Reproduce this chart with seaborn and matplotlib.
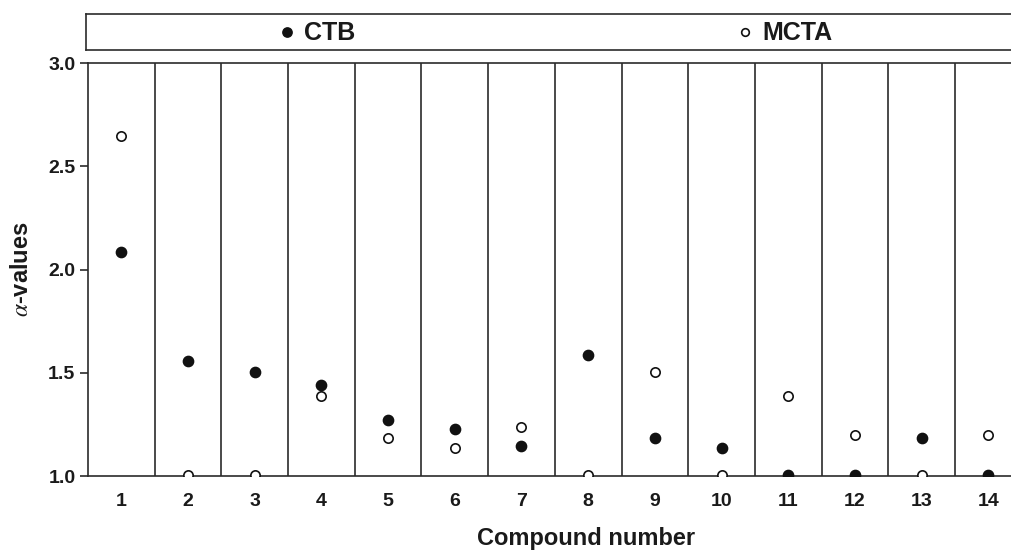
import matplotlib
matplotlib.use("Agg")
import matplotlib.pyplot as plt
import seaborn as sns
import pandas as pd

compounds = list(range(1, 15))
ctb = [2.085, 1.557, 1.504, 1.44, 1.274, 1.228, 1.145, 1.586, 1.184, 1.136, 1.005, 1.005, 1.184, 1.005]
mcta = [2.646, 1.005, 1.005, 1.39, 1.184, 1.136, 1.237, 1.005, 1.504, 1.005, 1.387, 1.199, 1.005, 1.199]
yticks = [1.0, 1.5, 2.0, 2.5, 3.0]

sns.set_style("white")
plt.rcParams['font.family'] = ['Liberation Sans', 'DejaVu Sans']
plt.rcParams['mathtext.fontset'] = 'stix'

df = pd.DataFrame({
    "compound": compounds * 2,
    "value": ctb + mcta,
    "series": ["CTB"] * len(ctb) + ["MCTA"] * len(mcta),
})

fig = plt.figure(figsize=(10.11, 5.53), dpi=100)
ax = fig.add_axes([0.087, 0.139, 0.913, 0.747])
lc = "#2b2b2b"

sns.scatterplot(data=df[df.series == "CTB"], x="compound", y="value", ax=ax,
                color="#111111", edgecolor="#111111", s=55, linewidth=1, zorder=3, legend=False)
sns.scatterplot(data=df[df.series == "MCTA"], x="compound", y="value", ax=ax,
                color="white", edgecolor="#111111", s=45, linewidth=1.2, zorder=3, legend=False)

for b in range(1, 14):
    ax.axvline(b + 0.5, color=lc, lw=1.2, zorder=1)

ax.set_xlim(0.5, 14.34)
ax.set_ylim(1.0, 3.0)
ax.set_xticks(compounds)
ax.set_xticklabels([str(c) for c in compounds], fontsize=14, fontweight="bold", color="#1a1a1a")
ax.set_yticks(yticks)
ax.set_yticklabels([f"{t:.1f}" for t in yticks], fontsize=14, fontweight="bold", color="#1a1a1a")
ax.tick_params(axis="x", length=0, pad=12)
ax.tick_params(axis="y", length=6, width=1.2, color=lc, direction="out", left=True, pad=3)
for s in ["left", "bottom", "top"]:
    ax.spines[s].set_color(lc)
    ax.spines[s].set_linewidth(1.2)
ax.spines["right"].set_visible(False)
ax.set_xlabel("Compound number", fontsize=17, fontweight="bold", color="#1a1a1a")
ax.xaxis.set_label_coords(0.54, -0.122)
ax.set_ylabel(r"$\alpha$-values", fontsize=17, fontweight="bold", labelpad=11, color="#1a1a1a")

# legend box
lax = fig.add_axes([0.085, 0.9096, 0.93, 0.065])
lax.set_xlim(0, 1)
lax.set_ylim(0, 1)
lax.set_xticks([])
lax.set_yticks([])
for s in lax.spines.values():
    s.set_color(lc)
    s.set_linewidth(1.2)
lax.scatter([0.214], [0.5], s=45, color="#111111", zorder=3)
lax.text(0.232, 0.47, "CTB", fontsize=18, fontweight="bold", va="center", ha="left", color="#1a1a1a")
lax.scatter([0.701], [0.5], s=30, facecolor="white", edgecolor="#111111", linewidth=1.2, zorder=3)
lax.text(0.719, 0.47, "MCTA", fontsize=18, fontweight="bold", va="center", ha="left", color="#1a1a1a")

fig.savefig("out.png", dpi=100)
